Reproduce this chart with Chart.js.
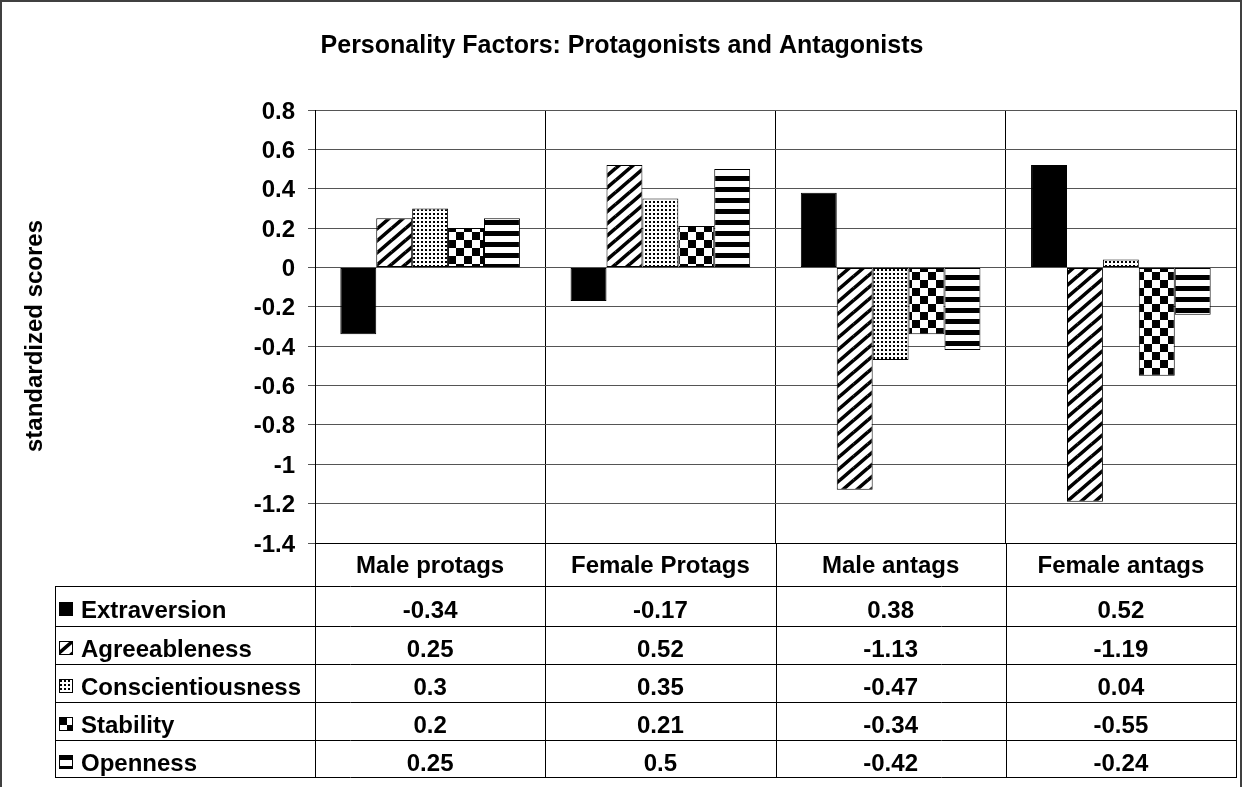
<!DOCTYPE html>
<html>
<head>
<meta charset="utf-8">
<script src="https://cdn.jsdelivr.net/npm/chart.js@4/dist/chart.umd.min.js"></script>
<style>
    html, body { margin: 0; padding: 0; background: #fff; }
    canvas { display: block; }
</style>
</head>
<body>
<canvas id="chart" width="1242" height="787"></canvas>
<script>
const chartTitle = "Personality Factors: Protagonists and Antagonists";
const yTitle = "standardized scores";
const categories = ["Male protags", "Female Protags", "Male antags", "Female antags"];
const factors = ["Extraversion", "Agreeableness", "Conscientiousness", "Stability", "Openness"];
const extraversion = [-0.34, -0.17, 0.38, 0.52];
const agreeableness = [0.25, 0.52, -1.13, -1.19];
const conscientiousness = [0.3, 0.35, -0.47, 0.04];
const stability = [0.2, 0.21, -0.34, -0.55];
const openness = [0.25, 0.5, -0.42, -0.24];
const yTicks = [0.8, 0.6, 0.4, 0.2, 0, -0.2, -0.4, -0.6, -0.8, -1, -1.2, -1.4];

const seriesValues = [extraversion, agreeableness, conscientiousness, stability, openness];
const FONT = 'bold 24px "Liberation Sans", Arial, sans-serif';

// black and white fills like the old Excel patterns
function makePattern(w, h, draw) {
    const c = document.createElement("canvas");
    c.width = w;
    c.height = h;
    const g = c.getContext("2d");
    g.fillStyle = "#fff";
    g.fillRect(0, 0, w, h);
    g.fillStyle = "#000";
    g.strokeStyle = "#000";
    draw(g, w, h);
    return g.createPattern(c, "repeat");
}

const fills = [
    "#000",
    makePattern(14, 12, (g, w, h) => {
        g.lineWidth = 3.6;
        g.beginPath();
        for (const dx of [-w, 0, w]) {
            for (const dy of [-h, 0, h]) {
                g.moveTo(dx, h + dy);
                g.lineTo(w + dx, dy);
            }
        }
        g.stroke();
    }),
    makePattern(4, 4, (g) => g.fillRect(1, 1, 2, 2)),
    makePattern(16, 16, (g) => {
        g.fillRect(0, 0, 8, 8);
        g.fillRect(8, 8, 8, 8);
    }),
    makePattern(8, 11, (g) => g.fillRect(0, 0, 8, 5)),
];

const rowLines = [586, 626, 664, 702, 740, 777];

const textPlugin = {
    id: "textAndTable",
    afterDraw(chart) {
        const ctx = chart.ctx;
        const area = chart.chartArea;
        const xs = chart.scales.x;
        const ys = chart.scales.y;
        const colW = (area.right - area.left) / categories.length;

        ctx.save();
        ctx.fillStyle = "#000";
        ctx.textBaseline = "alphabetic";

        // title
        ctx.font = 'bold 25px "Liberation Sans", Arial, sans-serif';
        ctx.textAlign = "center";
        ctx.fillText(chartTitle, 622, 53);
        ctx.font = FONT;

        // y axis title
        ctx.save();
        ctx.translate(42, 336);
        ctx.rotate(-Math.PI / 2);
        ctx.fillText(yTitle, 0, 0);
        ctx.restore();

        // y tick labels
        ctx.textAlign = "right";
        ys.ticks.forEach((t) => {
            ctx.fillText(String(t.value), 295, ys.getPixelForValue(t.value) + 8.5);
        });

        // table lines
        ctx.strokeStyle = "#000";
        ctx.lineWidth = 1;
        ctx.beginPath();
        rowLines.forEach((r) => {
            ctx.moveTo(55, r + 0.5);
            ctx.lineTo(area.right + 1, r + 0.5);
        });
        for (let i = 0; i <= categories.length; i++) {
            const x = Math.round(area.left + i * colW) + 0.5;
            ctx.moveTo(x, area.bottom);
            ctx.lineTo(x, rowLines[rowLines.length - 1] + 1);
        }
        ctx.moveTo(55.5, rowLines[0]);
        ctx.lineTo(55.5, rowLines[rowLines.length - 1] + 1);
        ctx.stroke();

        // header row
        ctx.textAlign = "center";
        categories.forEach((c, i) => {
            ctx.fillText(c, xs.getPixelForValue(i), 573);
        });

        // value rows
        factors.forEach((f, r) => {
            const mid = (rowLines[r] + rowLines[r + 1]) / 2;
            const base = mid + 12;
            ctx.textAlign = "center";
            seriesValues[r].forEach((v, i) => {
                ctx.fillText(String(v), xs.getPixelForValue(i), base);
            });
            ctx.textAlign = "left";
            ctx.fillText(f, 81, base);

            // legend key
            const top = Math.round(base - 16);
            const fill = fills[r];
            if (typeof fill !== "string") fill.setTransform(new DOMMatrix().translate(59, top));
            ctx.fillStyle = fill;
            ctx.fillRect(59, top, 14, 14);
            if (typeof fill !== "string") fill.setTransform(new DOMMatrix());
            ctx.strokeRect(59.5, top + 0.5, 13, 13);
            ctx.fillStyle = "#000";
        });

        // outer frame
        ctx.strokeStyle = "#404040";
        ctx.lineWidth = 2;
        ctx.beginPath();
        ctx.moveTo(1, 787);
        ctx.lineTo(1, 1);
        ctx.lineTo(1241, 1);
        ctx.lineTo(1241, 787);
        ctx.stroke();
        ctx.restore();
    },
};

const ctx = document.getElementById("chart").getContext("2d");
new Chart(ctx, {
    type: "bar",
    data: {
        labels: categories,
        datasets: factors.map((f, i) => ({
            label: f,
            data: seriesValues[i],
            backgroundColor: fills[i],
            borderColor: "#000",
            borderWidth: 1,
            borderSkipped: false,
            categoryPercentage: 0.78,
            barPercentage: 1,
        })),
    },
    options: {
        responsive: false,
        animation: false,
        devicePixelRatio: 1,
        layout: { padding: { top: 110, right: 6, bottom: 0, left: 0 } },
        plugins: {
            legend: { display: false },
            tooltip: { enabled: false },
            title: { display: false },
        },
        scales: {
            x: {
                grid: { color: "#000", drawTicks: false, offset: true },
                border: { color: "#000" },
                ticks: { display: false },
                afterFit(s) {
                    s.height = 244;
                },
            },
            y: {
                min: -1.4,
                max: 0.8,
                afterBuildTicks(s) {
                    s.ticks = yTicks.map((v) => ({ value: v }));
                },
                grid: { color: "#555", tickLength: 7 },
                border: { color: "#000" },
                ticks: { display: false },
                afterFit(s) {
                    s.width = 315;
                },
            },
        },
    },
    plugins: [textPlugin],
});
</script>
</body>
</html>
